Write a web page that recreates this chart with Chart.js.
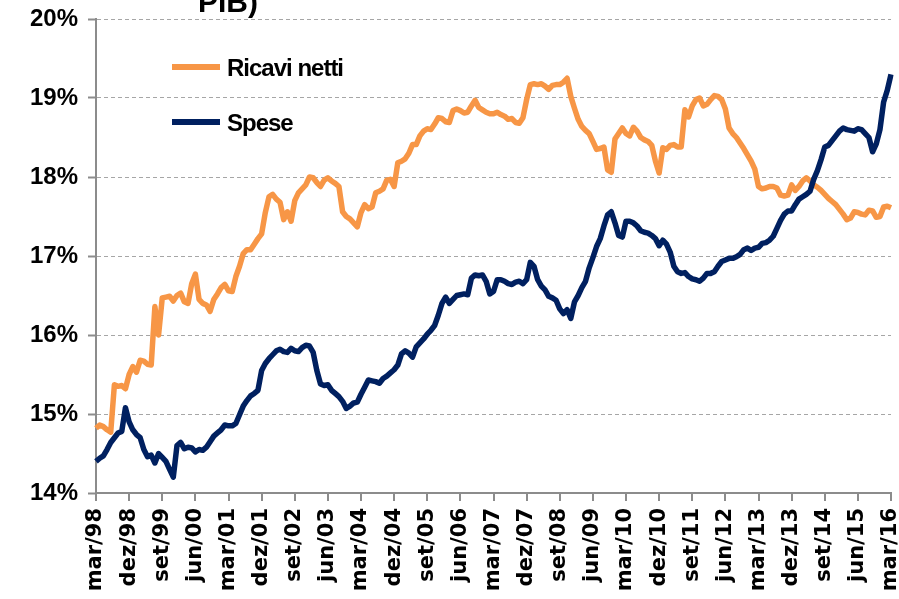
<!DOCTYPE html>
<html>
<head>
<meta charset="utf-8">
<script src="https://cdn.jsdelivr.net/npm/chart.js@4.4.1/dist/chart.umd.min.js"></script>
<style>
  body { margin: 0; background: #fff; }
</style>
</head>
<body>
<canvas id="grafico" width="899" height="599"></canvas>
<script>
// mesi (etichette in portoghese come nell'originale)
const mesi = ['jan', 'fev', 'mar', 'abr', 'mai', 'jun', 'jul', 'ago', 'set', 'out', 'nov', 'dez'];

const tickLabels = ['mar/98', 'dez/98', 'set/99', 'jun/00', 'mar/01', 'dez/01', 'set/02', 'jun/03',
    'mar/04', 'dez/04', 'set/05', 'jun/06', 'mar/07', 'dez/07', 'set/08', 'jun/09', 'mar/10',
    'dez/10', 'set/11', 'jun/12', 'mar/13', 'dez/13', 'set/14', 'jun/15', 'mar/16'];

// % del PIL, mensile da mar/98 a mar/16
const ricavi = [
    14.82, 14.86, 14.84, 14.8, 14.77, 15.37, 15.35, 15.36, 15.32, 15.5, 15.6, 15.53,
    15.68, 15.67, 15.63, 15.62, 16.36, 16.0, 16.47, 16.48, 16.49, 16.43, 16.5, 16.53,
    16.42, 16.4, 16.65, 16.77, 16.45, 16.4, 16.38, 16.3, 16.45, 16.52, 16.6, 16.64,
    16.56, 16.55, 16.74, 16.87, 17.03, 17.08, 17.08, 17.15, 17.22, 17.28, 17.55, 17.75,
    17.78, 17.72, 17.68, 17.46, 17.56, 17.44, 17.7, 17.8, 17.85, 17.9, 18.0, 17.99,
    17.93, 17.88, 17.96, 17.99, 17.95, 17.92, 17.88, 17.56, 17.5, 17.47, 17.42, 17.37,
    17.55, 17.65, 17.6, 17.62, 17.8, 17.82, 17.85, 17.96, 17.97, 17.88, 18.18, 18.2,
    18.23, 18.3, 18.41, 18.41, 18.52, 18.58, 18.61, 18.6, 18.67, 18.75, 18.74, 18.7,
    18.69, 18.84, 18.86, 18.84, 18.81, 18.82, 18.9, 18.97, 18.88, 18.85, 18.82, 18.8,
    18.8, 18.82, 18.79, 18.77, 18.73, 18.74, 18.69, 18.68, 18.75, 18.98, 19.17, 19.18,
    19.17, 19.18, 19.15, 19.11, 19.16, 19.17, 19.17, 19.2, 19.25, 19.02, 18.87, 18.73,
    18.64, 18.59, 18.55, 18.45, 18.35, 18.36, 18.38, 18.09, 18.06, 18.48, 18.55, 18.62,
    18.55, 18.52, 18.63, 18.58, 18.5, 18.47, 18.45, 18.4, 18.2, 18.05, 18.37, 18.35,
    18.4, 18.41, 18.38, 18.38, 18.85, 18.76, 18.9, 18.98, 19.0, 18.9, 18.92, 18.98,
    19.03, 19.02, 18.98, 18.86, 18.62, 18.55, 18.5, 18.43, 18.36, 18.28, 18.2, 18.1,
    17.88, 17.85, 17.86, 17.88, 17.88, 17.86, 17.77, 17.76, 17.77, 17.9, 17.83, 17.88,
    17.95, 17.99, 17.95, 17.9, 17.87, 17.83, 17.78, 17.73, 17.69, 17.65, 17.59, 17.53,
    17.46, 17.48, 17.56, 17.55, 17.53, 17.52, 17.58, 17.57, 17.49, 17.5, 17.62, 17.63,
    17.61
];

const spese = [
    14.4, 14.44, 14.47, 14.55, 14.64, 14.7, 14.76, 14.78, 15.08, 14.9, 14.8, 14.74,
    14.7, 14.55, 14.46, 14.48, 14.38, 14.5, 14.45, 14.4, 14.3, 14.2, 14.6, 14.64,
    14.56, 14.58, 14.57, 14.52, 14.55, 14.54, 14.58, 14.65, 14.72, 14.76, 14.8, 14.86,
    14.85, 14.85, 14.88, 14.99, 15.1, 15.17, 15.23, 15.26, 15.3, 15.55, 15.64, 15.7,
    15.75, 15.8, 15.82, 15.79, 15.78, 15.83, 15.8, 15.79, 15.84, 15.87, 15.86, 15.78,
    15.55, 15.38, 15.36, 15.37, 15.3, 15.26, 15.22, 15.16, 15.07, 15.1, 15.14, 15.15,
    15.25, 15.34, 15.43, 15.42, 15.41, 15.39, 15.45, 15.48, 15.52, 15.56, 15.62, 15.76,
    15.8, 15.77, 15.72, 15.85, 15.9, 15.95, 16.01, 16.06, 16.12, 16.25, 16.4, 16.48,
    16.4, 16.45, 16.5, 16.51, 16.52, 16.51, 16.72, 16.76, 16.75, 16.76, 16.68, 16.52,
    16.55, 16.7, 16.7, 16.68, 16.65, 16.64, 16.67, 16.68, 16.65, 16.7, 16.92, 16.87,
    16.7, 16.62, 16.57, 16.49, 16.47, 16.44, 16.33, 16.27, 16.32, 16.21, 16.42, 16.5,
    16.6, 16.68, 16.85, 16.98, 17.12, 17.22, 17.38, 17.52, 17.56, 17.42, 17.26, 17.24,
    17.44, 17.44, 17.42, 17.38, 17.32, 17.3, 17.29, 17.26, 17.22, 17.13, 17.2, 17.15,
    17.05, 16.87, 16.8, 16.78, 16.79, 16.74, 16.71, 16.7, 16.68, 16.72, 16.78, 16.78,
    16.8, 16.87, 16.93, 16.95, 16.97, 16.97, 16.99, 17.02, 17.08, 17.1, 17.07, 17.1,
    17.11, 17.16, 17.17, 17.2, 17.25, 17.35, 17.45, 17.53, 17.57, 17.57, 17.65, 17.72,
    17.75, 17.78, 17.82, 17.97, 18.08, 18.22, 18.38, 18.4, 18.46, 18.52, 18.58, 18.62,
    18.6, 18.59, 18.58, 18.61, 18.6, 18.55, 18.5, 18.32, 18.42, 18.6, 18.95, 19.1,
    19.3
];

const categorie = [];
for (let i = 0; i < ricavi.length; i++) {
    const k = 2 + i;
    categorie.push(mesi[k % 12] + '/' + String(1998 + Math.floor(k / 12)).slice(2));
}

// legenda dentro l'area del grafico + pezzo di titolo tagliato in alto
const legendaInterna = {
    id: 'legendaInterna',
    afterDraw(chart) {
        const c = chart.ctx;
        c.save();
        c.fillStyle = '#000';
        c.font = 'bold 30px "Liberation Sans"';
        c.textBaseline = 'alphabetic';
        c.fillText('PIB)', 198, 12);
        chart.data.datasets.forEach((ds, i) => {
            const y = 67 + i * 55;
            c.strokeStyle = ds.borderColor;
            c.lineWidth = 6;
            c.beginPath();
            c.moveTo(172, y);
            c.lineTo(220, y);
            c.stroke();
            c.font = 'bold 24px "Liberation Sans"';
            c.letterSpacing = '-1px';
            c.fillText(ds.label, 227, y + 9);
        });
        c.restore();
    }
};

const grafico = document.getElementById('grafico');

new Chart(grafico, {
    type: 'line',
    data: {
        labels: categorie,
        datasets: [{
            label: 'Ricavi netti',
            data: ricavi,
            borderColor: '#F79646',
            borderWidth: 5.5,
            pointRadius: 0,
            tension: 0,
            borderJoinStyle: 'round',
            order: 2
        }, {
            label: 'Spese',
            data: spese,
            borderColor: '#002060',
            borderWidth: 5.5,
            pointRadius: 0,
            tension: 0,
            borderJoinStyle: 'round',
            order: 1
        }]
    },
    options: {
        responsive: false,
        animation: false,
        layout: {
            padding: { top: 19, right: 8, left: 0, bottom: 0 }
        },
        plugins: {
            legend: { display: false },
            tooltip: { enabled: false }
        },
        scales: {
            x: {
                offset: false,
                border: { color: '#8C8C8C', width: 2 },
                grid: {
                    drawOnChartArea: false,
                    drawTicks: true,
                    tickLength: 8,
                    color: '#8C8C8C',
                    lineWidth: 2
                },
                ticks: {
                    autoSkip: false,
                    minRotation: 90,
                    maxRotation: 90,
                    padding: 7,
                    color: '#000',
                    font: { family: '"DejaVu Sans"', size: 21, weight: 'bold' },
                    callback: function (val) {
                        const l = this.getLabelForValue(val);
                        return tickLabels.includes(l) ? l : null;
                    }
                },
                afterFit: function (axis) {
                    axis.height = 106;
                    axis.paddingLeft = 0;
                    axis.paddingRight = 0;
                }
            },
            y: {
                min: 14,
                max: 20,
                border: { color: '#8C8C8C', width: 2, dash: [4, 3] },
                grid: {
                    color: '#A6A6A6',
                    lineWidth: 1,
                    drawTicks: true,
                    tickLength: 8,
                    tickColor: '#8C8C8C',
                    tickWidth: 2
                },
                ticks: {
                    stepSize: 1,
                    padding: 10,
                    color: '#000',
                    font: { family: '"Liberation Sans"', size: 24, weight: 'bold' },
                    callback: function (v) { return v + '%'; }
                },
                afterFit: function (axis) {
                    axis.width = 96;
                    axis.paddingTop = 0;
                    axis.paddingBottom = 0;
                }
            }
        }
    },
    plugins: [legendaInterna]
});
</script>
</body>
</html>
